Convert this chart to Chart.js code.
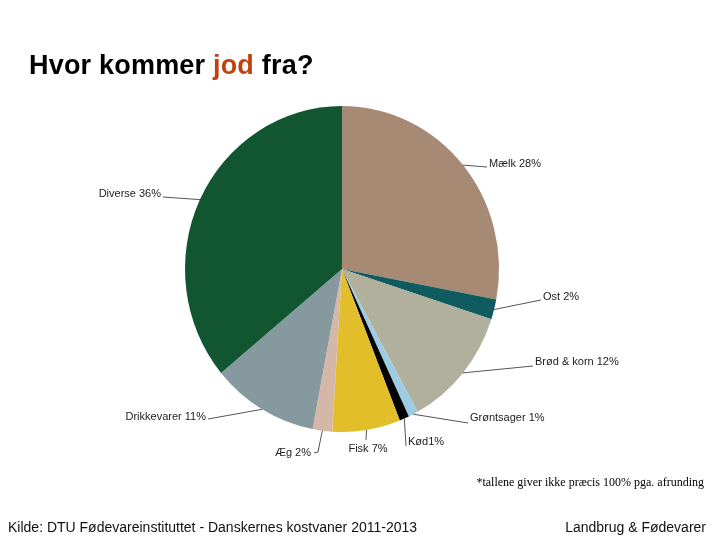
<!DOCTYPE html>
<html>
<head>
<meta charset="utf-8">
<script src="https://cdn.jsdelivr.net/npm/chart.js@4/dist/chart.umd.min.js"></script>
<style>
  body { margin: 0; background: #fff; }
  #wrap { position: relative; width: 720px; height: 540px; overflow: hidden; font-family: "Liberation Sans", Arial, sans-serif; }
  #chart { position: absolute; left: 0; top: 0; }
  .title { position: absolute; left: 29px; top: 50px; font-size: 27px; font-weight: bold; color: #000; letter-spacing: 0.2px; }
  .title span { color: #C0420F; }
  .note { position: absolute; right: 16px; top: 475px; font-family: "Liberation Serif", "Times New Roman", serif; font-size: 12px; color: #000; }
  .src { position: absolute; left: 8px; top: 519px; font-size: 14px; color: #111; }
  .brand { position: absolute; right: 14px; top: 519px; font-size: 14px; color: #111; }
</style>
</head>
<body>
<div id="wrap">
  <canvas id="chart" width="720" height="540"></canvas>
  <div class="title">Hvor kommer <span>jod</span> fra?</div>
  <div class="note">*tallene giver ikke præcis 100% pga. afrunding</div>
  <div class="src">Kilde: DTU Fødevareinstituttet - Danskernes kostvaner 2011-2013</div>
  <div class="brand">Landbrug &amp; Fødevarer</div>
</div>
<script>
// Data
var categories = ['Mælk', 'Ost', 'Brød & korn', 'Grøntsager', 'Kød', 'Fisk', 'Æg', 'Drikkevarer', 'Diverse']
var percents = [28, 2, 12, 1, 1, 7, 2, 11, 36]
var labelTexts = ['Mælk 28%', 'Ost 2%', 'Brød & korn 12%', 'Grøntsager 1%', 'Kød1%', 'Fisk 7%', 'Æg 2%', 'Drikkevarer 11%', 'Diverse 36%']

var sliceColors = ['#A78A74', '#0F5B60', '#B1B09D', '#9DCCE2', '#000000', '#E3BE2B', '#D5B7A8', '#86999E', '#115631']

// the original pie is a little taller than wide
var yStretch = 1.038

// where each label's leader line ends and where its text goes
var labelLayout = [
    { lx: 487, ly: 167, tx: 489, ty: 164, align: 'left' },
    { lx: 541, ly: 300, tx: 543, ty: 297, align: 'left' },
    { lx: 533, ly: 366, tx: 535, ty: 362, align: 'left' },
    { lx: 468, ly: 423, tx: 470, ty: 418, align: 'left' },
    { lx: 406, ly: 446, tx: 408, ty: 442, align: 'left' },
    { lx: 366, ly: 440, tx: 368, ty: 449, align: 'center' },
    { lx: 318, ly: 452, hx: 314, hy: 453, tx: 311, ty: 453, align: 'right' },
    { lx: 208, ly: 419, tx: 206, ty: 417, align: 'right' },
    { lx: 163, ly: 197, tx: 161, ty: 194, align: 'right' }
]

var stretchPie = {
    id: 'stretchPie',
    beforeDatasetsDraw: function (chart) {
        var arc = chart.getDatasetMeta(0).data[0]
        var ctx = chart.ctx
        ctx.save()
        ctx.translate(arc.x, arc.y)
        ctx.scale(1, yStretch)
        ctx.translate(-arc.x, -arc.y)
    },
    afterDatasetsDraw: function (chart) {
        chart.ctx.restore()
    }
}

var leaderLabels = {
    id: 'leaderLabels',
    afterDatasetsDraw: function (chart) {
        var ctx = chart.ctx
        var arcs = chart.getDatasetMeta(0).data
        ctx.save()
        ctx.font = '11px "Liberation Sans", Arial, sans-serif'
        ctx.textBaseline = 'middle'
        arcs.forEach(function (arc, i) {
            var mid = (arc.startAngle + arc.endAngle) / 2
            var px = arc.x + Math.cos(mid) * arc.outerRadius
            var py = arc.y + Math.sin(mid) * arc.outerRadius * yStretch
            var L = labelLayout[i]
            ctx.strokeStyle = '#555'
            ctx.lineWidth = 1
            ctx.beginPath()
            ctx.moveTo(px, py)
            ctx.lineTo(L.lx, L.ly)
            if (L.hx) ctx.lineTo(L.hx, L.hy)
            ctx.stroke()
            ctx.fillStyle = '#222'
            ctx.textAlign = L.align
            ctx.fillText(labelTexts[i], L.tx, L.ty)
        })
        ctx.restore()
    }
}

new Chart(document.getElementById('chart').getContext('2d'), {
    type: 'pie',
    data: {
        labels: categories,
        datasets: [{
            data: percents,
            backgroundColor: sliceColors,
            borderWidth: 0
        }]
    },
    options: {
        responsive: false,
        animation: false,
        layout: { padding: { left: 185, right: 221, top: 112, bottom: 114 } },
        plugins: {
            legend: { display: false },
            tooltip: { enabled: false }
        }
    },
    plugins: [stretchPie, leaderLabels]
})
</script>
</body>
</html>
